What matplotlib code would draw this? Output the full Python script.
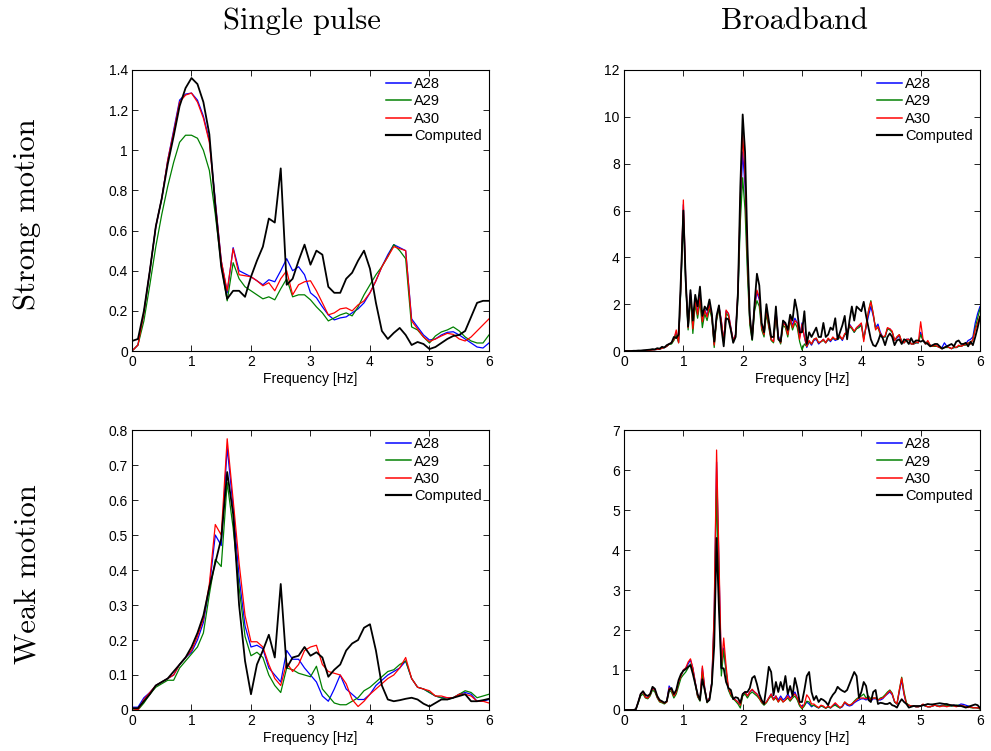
import numpy as np
import matplotlib
matplotlib.use('Agg')
import matplotlib.pyplot as plt
from matplotlib.ticker import FormatStrFormatter

# Frekuensi sampel
f_pulse = np.linspace(0, 6, 61)     # single pulse, tiap 0.1 Hz
f_broad = np.linspace(0, 6, 151)    # broadband, tiap 0.04 Hz

# --- Strong motion, single pulse ---
sp_strong_a28 = [0.0, 0.03, 0.19, 0.40, 0.62, 0.76, 0.95, 1.10, 1.25, 1.28,
                 1.285, 1.25, 1.17, 1.05, 0.75, 0.45, 0.29, 0.515, 0.40, 0.385,
                 0.37, 0.35, 0.33, 0.355, 0.345, 0.40, 0.46, 0.40, 0.42, 0.38,
                 0.29, 0.265, 0.22, 0.18, 0.155, 0.165, 0.17, 0.19, 0.21, 0.24,
                 0.29, 0.35, 0.42, 0.48, 0.53, 0.515, 0.50, 0.16, 0.12, 0.08,
                 0.055, 0.06, 0.08, 0.093, 0.096, 0.08, 0.06, 0.04, 0.02, 0.015, 0.04]
sp_strong_a29 = [0.0, 0.03, 0.15, 0.33, 0.52, 0.68, 0.82, 0.94, 1.04, 1.075,
                 1.075, 1.06, 1.0, 0.90, 0.68, 0.43, 0.25, 0.44, 0.36, 0.32,
                 0.30, 0.28, 0.26, 0.27, 0.255, 0.31, 0.36, 0.27, 0.28, 0.28,
                 0.255, 0.22, 0.19, 0.15, 0.165, 0.18, 0.19, 0.175, 0.22, 0.28,
                 0.33, 0.38, 0.42, 0.47, 0.53, 0.50, 0.46, 0.12, 0.105, 0.07,
                 0.04, 0.075, 0.095, 0.105, 0.12, 0.10, 0.07, 0.05, 0.04, 0.04, 0.08]
sp_strong_a30 = [0.0, 0.03, 0.19, 0.40, 0.62, 0.76, 0.95, 1.09, 1.24, 1.275,
                 1.285, 1.24, 1.16, 1.04, 0.74, 0.45, 0.30, 0.51, 0.38, 0.375,
                 0.37, 0.35, 0.325, 0.34, 0.30, 0.36, 0.40, 0.28, 0.33, 0.345,
                 0.35, 0.30, 0.24, 0.18, 0.19, 0.21, 0.215, 0.20, 0.23, 0.25,
                 0.29, 0.35, 0.42, 0.47, 0.52, 0.51, 0.50, 0.15, 0.11, 0.07,
                 0.047, 0.06, 0.075, 0.088, 0.083, 0.06, 0.05, 0.07, 0.10, 0.13, 0.16]
sp_strong_comp = [0.05, 0.06, 0.20, 0.40, 0.62, 0.76, 0.93, 1.07, 1.22, 1.31,
                  1.36, 1.33, 1.24, 1.08, 0.72, 0.42, 0.26, 0.30, 0.30, 0.27,
                  0.37, 0.45, 0.52, 0.66, 0.64, 0.91, 0.33, 0.36, 0.45, 0.53,
                  0.43, 0.50, 0.48, 0.32, 0.29, 0.29, 0.36, 0.39, 0.45, 0.50,
                  0.41, 0.24, 0.10, 0.06, 0.09, 0.115, 0.08, 0.03, 0.045, 0.035,
                  0.01, 0.02, 0.04, 0.06, 0.075, 0.08, 0.10, 0.17, 0.24, 0.25, 0.25]

# --- Weak motion, single pulse ---
sp_weak_a28 = [0.008, 0.008, 0.035, 0.05, 0.07, 0.08, 0.09, 0.10, 0.13, 0.15,
               0.165, 0.20, 0.25, 0.35, 0.50, 0.47, 0.75, 0.58, 0.38, 0.24,
               0.18, 0.185, 0.175, 0.12, 0.10, 0.08, 0.17, 0.145, 0.145, 0.12,
               0.10, 0.08, 0.04, 0.025, 0.06, 0.10, 0.06, 0.045, 0.03, 0.03,
               0.045, 0.07, 0.085, 0.10, 0.11, 0.12, 0.14, 0.09, 0.065, 0.06,
               0.05, 0.04, 0.035, 0.035, 0.035, 0.045, 0.05, 0.045, 0.025, 0.025, 0.03]
sp_weak_a29 = [0.0, 0.0, 0.02, 0.045, 0.065, 0.075, 0.085, 0.085, 0.12, 0.14,
               0.16, 0.18, 0.22, 0.33, 0.43, 0.41, 0.65, 0.52, 0.35, 0.21,
               0.155, 0.165, 0.15, 0.10, 0.07, 0.05, 0.12, 0.115, 0.105, 0.10,
               0.095, 0.125, 0.06, 0.04, 0.02, 0.015, 0.015, 0.025, 0.035, 0.055,
               0.065, 0.08, 0.095, 0.11, 0.115, 0.13, 0.14, 0.09, 0.065, 0.06,
               0.05, 0.04, 0.035, 0.03, 0.035, 0.045, 0.055, 0.05, 0.035, 0.04, 0.045]
sp_weak_a30 = [0.005, 0.0, 0.03, 0.05, 0.07, 0.08, 0.09, 0.10, 0.13, 0.15,
               0.17, 0.21, 0.26, 0.36, 0.53, 0.50, 0.775, 0.60, 0.42, 0.27,
               0.195, 0.195, 0.18, 0.13, 0.09, 0.07, 0.135, 0.11, 0.13, 0.17,
               0.18, 0.185, 0.13, 0.11, 0.105, 0.10, 0.075, 0.03, 0.01, 0.025,
               0.045, 0.06, 0.075, 0.09, 0.10, 0.12, 0.15, 0.09, 0.065, 0.06,
               0.055, 0.04, 0.04, 0.035, 0.035, 0.045, 0.045, 0.04, 0.025, 0.025, 0.02]
sp_weak_comp = [0.005, 0.005, 0.025, 0.045, 0.07, 0.08, 0.09, 0.11, 0.13, 0.15,
                0.18, 0.22, 0.27, 0.35, 0.42, 0.49, 0.68, 0.56, 0.30, 0.14,
                0.045, 0.13, 0.17, 0.215, 0.15, 0.36, 0.12, 0.15, 0.155, 0.18,
                0.155, 0.165, 0.15, 0.095, 0.115, 0.13, 0.17, 0.19, 0.20, 0.235,
                0.245, 0.17, 0.07, 0.03, 0.025, 0.028, 0.032, 0.035, 0.03, 0.018,
                0.01, 0.02, 0.03, 0.03, 0.035, 0.04, 0.045, 0.025, 0.025, 0.028, 0.032]

# --- Strong motion, broadband ---
bb_strong_a28 = [0.0, 0.0, 0.0, 0.0, 0.0, 0.01, 0.01, 0.01, 0.02, 0.02, 0.03, 0.04, 0.05, 0.06, 0.07, 0.08, 0.12, 0.15, 0.2, 0.3, 0.35, 0.5, 0.8, 0.4, 2.9,
                 6.25, 3.0, 1.0, 2.5, 1.0, 2.25, 1.6, 2.4, 1.3, 1.8, 1.5, 2.05, 1.5, 0.3, 1.45, 1.9, 1.3, 0.4, 1.7, 1.6, 1.0, 0.45, 0.7, 2.5, 6.0,
                 8.5, 7.0, 3.8, 1.3, 0.6, 1.9, 2.5, 2.2, 1.0, 0.7, 1.75, 1.1, 0.5, 0.4, 1.75, 0.65, 0.4, 1.2, 1.15, 0.7, 1.4, 1.1, 1.4, 1.2, 0.6,
                 1.2, 0.6, 0.15, 0.4, 0.25, 0.45, 0.5, 0.3, 0.4, 0.5, 0.35, 0.5, 0.4, 0.55, 0.45, 0.5, 0.6, 0.45, 0.7, 0.75, 1.15, 1.0, 0.8, 1.0, 1.05,
                 1.15, 0.55, 1.0, 1.5, 1.9, 1.5, 1.0, 1.15, 0.8, 0.6, 0.6, 0.95, 0.95, 0.8, 0.45, 0.55, 0.65, 0.4, 0.35, 0.5, 0.5, 0.3, 0.3, 0.35, 0.35,
                 0.8, 0.45, 0.3, 0.4, 0.25, 0.2, 0.2, 0.2, 0.15, 0.15, 0.35, 0.2, 0.15, 0.1, 0.15, 0.15, 0.2, 0.2, 0.25, 0.3, 0.45, 0.5, 0.6, 1.2, 1.6,
                 1.9]
bb_strong_a29 = [0.0, 0.0, 0.0, 0.0, 0.0, 0.01, 0.01, 0.01, 0.02, 0.02, 0.03, 0.04, 0.05, 0.06, 0.07, 0.08, 0.12, 0.15, 0.2, 0.28, 0.3, 0.45, 0.7, 0.35, 2.8,
                 5.8, 2.8, 0.9, 2.3, 0.75, 2.0, 1.4, 2.1, 1.0, 1.6, 1.3, 1.8, 1.4, 0.15, 1.3, 1.8, 1.2, 0.35, 1.6, 1.5, 0.9, 0.4, 0.6, 2.3, 5.5,
                 7.4, 6.0, 3.3, 1.1, 0.45, 1.7, 2.15, 1.9, 0.9, 0.6, 1.6, 1.0, 0.45, 0.35, 1.55, 0.55, 0.3, 1.1, 1.0, 0.6, 1.3, 0.9, 1.2, 1.0, 0.4,
                 0.05, 0.3, 0.2, 0.4, 0.3, 0.5, 0.55, 0.35, 0.4, 0.45, 0.35, 0.5, 0.45, 0.55, 0.5, 0.5, 0.6, 0.5, 0.7, 0.75, 1.05, 0.95, 0.8, 0.95, 1.0,
                 1.1, 0.5, 1.1, 1.7, 2.15, 1.6, 0.95, 1.0, 0.7, 0.6, 0.6, 0.95, 0.9, 0.8, 0.45, 0.6, 0.7, 0.4, 0.35, 0.45, 0.5, 0.3, 0.3, 0.35, 0.35,
                 0.7, 0.45, 0.3, 0.4, 0.25, 0.2, 0.2, 0.2, 0.15, 0.1, 0.15, 0.15, 0.15, 0.1, 0.15, 0.15, 0.2, 0.2, 0.25, 0.25, 0.35, 0.3, 0.5, 1.0, 1.4,
                 1.8]
bb_strong_a30 = [0.0, 0.0, 0.0, 0.0, 0.0, 0.01, 0.01, 0.01, 0.02, 0.02, 0.03, 0.04, 0.05, 0.06, 0.07, 0.08, 0.12, 0.15, 0.2, 0.3, 0.35, 0.5, 0.9, 0.35, 3.0,
                 6.45, 3.0, 1.0, 2.45, 0.95, 2.2, 1.55, 2.3, 1.25, 1.75, 1.45, 2.0, 1.5, 0.25, 1.4, 1.9, 1.3, 0.4, 1.75, 1.6, 1.0, 0.45, 0.7, 2.6, 6.5,
                 9.25, 7.5, 4.0, 1.3, 0.6, 1.9, 2.6, 2.3, 1.0, 0.7, 1.8, 1.1, 0.5, 0.4, 1.7, 0.6, 0.35, 1.2, 1.1, 0.7, 1.4, 1.0, 1.3, 1.2, 0.5,
                 1.15, 0.6, 0.2, 0.45, 0.3, 0.5, 0.55, 0.35, 0.4, 0.5, 0.35, 0.55, 0.45, 0.6, 0.5, 0.55, 0.65, 0.5, 0.75, 0.8, 1.1, 1.0, 0.85, 1.0, 1.1,
                 1.2, 0.4, 1.1, 1.7, 2.1, 1.6, 0.9, 1.05, 0.75, 0.6, 0.65, 1.0, 0.95, 0.85, 0.45, 0.6, 0.7, 0.4, 0.35, 0.5, 0.5, 0.3, 0.3, 0.4, 0.35,
                 1.25, 0.5, 0.3, 0.45, 0.25, 0.2, 0.25, 0.2, 0.15, 0.1, 0.15, 0.2, 0.15, 0.1, 0.2, 0.15, 0.25, 0.2, 0.25, 0.3, 0.35, 0.3, 0.5, 0.9, 1.2,
                 1.5]
bb_strong_comp = [0.0, 0.0, 0.0, 0.0, 0.01, 0.01, 0.02, 0.02, 0.03, 0.04, 0.05, 0.06, 0.08, 0.07, 0.12, 0.10, 0.18, 0.15, 0.25, 0.30, 0.35, 0.60, 0.55, 0.70, 3.2,
                  6.0, 3.0, 1.05, 2.6, 1.3, 2.4, 1.9, 2.75, 1.5, 1.9, 1.75, 2.2, 1.6, 0.4, 1.5, 1.95, 1.0, 0.2, 1.4, 1.35, 0.9, 0.35, 0.6, 2.5, 7.0,
                  10.1, 8.5, 4.5, 1.5, 0.5, 2.0, 3.3, 2.8, 1.2, 0.8, 2.0, 1.3, 0.6, 0.6, 1.9, 0.5, 0.4, 1.3, 1.2, 0.9, 1.55, 1.3, 2.2, 1.7, 0.8,
                  0.8, 1.7, 0.3, 0.8, 0.6, 0.8, 1.0, 0.6, 0.6, 1.2, 0.6, 0.7, 1.0, 0.9, 1.4, 0.5, 0.8, 1.1, 1.5, 0.5, 1.3, 1.9, 1.3, 1.9, 1.8,
                  1.7, 2.1, 1.5, 1.0, 0.5, 0.25, 0.2, 0.4, 0.7, 0.55, 0.25, 0.6, 0.75, 0.6, 0.25, 0.45, 0.5, 0.3, 0.5, 0.45, 0.3, 0.55, 0.35, 0.45, 0.45,
                  0.4, 0.45, 0.35, 0.3, 0.2, 0.25, 0.3, 0.3, 0.2, 0.1, 0.15, 0.2, 0.25, 0.3, 0.2, 0.4, 0.45, 0.3, 0.3, 0.35, 0.2, 0.4, 0.25, 0.6, 1.0,
                  1.45]

# --- Weak motion, broadband ---
bb_weak_a28 = [0, 0, 0, 0, 0, 0.02, 0.2, 0.4, 0.45, 0.33, 0.3, 0.38, 0.55, 0.5, 0.32, 0.22, 0.2, 0.17, 0.22, 0.6, 0.5, 0.35, 0.45, 0.7, 0.85,
               1.0, 1.05, 1.15, 1.25, 1.05, 0.7, 0.35, 0.25, 1.05, 0.55, 0.2, 0.3, 0.7, 2.4, 6.2, 3.6, 1.0, 1.55, 1.0, 0.5, 0.4, 0.3, 0.25, 0.2, 0.12,
               0.4, 0.45, 0.35, 0.45, 0.5, 0.45, 0.4, 0.3, 0.2, 0.15, 0.2, 0.3, 0.4, 0.28, 0.35, 0.25, 0.35, 0.25, 0.3, 0.4, 0.3, 0.35, 0.45, 0.3, 0.12,
               0.1, 0.12, 0.2, 0.15, 0.08, 0.12, 0.08, 0.05, 0.1, 0.08, 0.05, 0.08, 0.05, 0.1, 0.15, 0.1, 0.05, 0.08, 0.18, 0.12, 0.1, 0.12, 0.18, 0.22, 0.25,
               0.28, 0.28, 0.25, 0.3, 0.22, 0.28, 0.28, 0.25, 0.25, 0.28, 0.35, 0.4, 0.45, 0.38, 0.2, 0.15, 0.45, 0.75, 0.38, 0.15, 0.12, 0.1, 0.1, 0.08, 0.08,
               0.1, 0.12, 0.1, 0.08, 0.08, 0.1, 0.12, 0.1, 0.1, 0.12, 0.1, 0.1, 0.12, 0.1, 0.12, 0.1, 0.12, 0.15, 0.14, 0.12, 0.1, 0.08, 0.06, 0.06, 0.05,
               0.05]
bb_weak_a29 = [0, 0, 0, 0, 0, 0.02, 0.18, 0.35, 0.4, 0.3, 0.28, 0.35, 0.5, 0.45, 0.3, 0.2, 0.18, 0.15, 0.2, 0.5, 0.45, 0.3, 0.4, 0.6, 0.8,
               0.88, 0.95, 1.05, 1.15, 1.0, 0.65, 0.33, 0.22, 0.95, 0.5, 0.18, 0.28, 0.65, 2.2, 5.5, 3.0, 0.85, 1.5, 0.95, 0.5, 0.35, 0.28, 0.22, 0.15, 0.05,
               0.35, 0.4, 0.3, 0.4, 0.45, 0.4, 0.35, 0.28, 0.18, 0.12, 0.18, 0.28, 0.35, 0.25, 0.3, 0.2, 0.28, 0.2, 0.25, 0.3, 0.22, 0.3, 0.35, 0.25, 0.1,
               0.03, 0.1, 0.22, 0.2, 0.1, 0.12, 0.08, 0.05, 0.1, 0.08, 0.04, 0.08, 0.05, 0.1, 0.12, 0.08, 0.05, 0.1, 0.2, 0.15, 0.12, 0.15, 0.22, 0.28, 0.32,
               0.35, 0.4, 0.3, 0.35, 0.28, 0.3, 0.3, 0.25, 0.3, 0.32, 0.38, 0.45, 0.5, 0.42, 0.2, 0.15, 0.5, 0.82, 0.45, 0.18, 0.12, 0.1, 0.1, 0.08, 0.08,
               0.1, 0.12, 0.1, 0.08, 0.08, 0.1, 0.12, 0.1, 0.1, 0.1, 0.12, 0.12, 0.1, 0.1, 0.1, 0.12, 0.12, 0.1, 0.1, 0.08, 0.08, 0.06, 0.05, 0.06, 0.05,
               0.02]
bb_weak_a30 = [0, 0, 0, 0, 0, 0.02, 0.2, 0.4, 0.45, 0.32, 0.3, 0.38, 0.55, 0.5, 0.32, 0.22, 0.2, 0.17, 0.2, 0.55, 0.5, 0.35, 0.45, 0.7, 0.85,
               1.0, 1.05, 1.2, 1.28, 1.05, 0.7, 0.35, 0.25, 1.1, 0.55, 0.2, 0.3, 0.7, 2.5, 6.5, 3.8, 1.1, 1.8, 1.1, 0.55, 0.4, 0.3, 0.25, 0.2, 0.12,
               0.4, 0.45, 0.35, 0.45, 0.52, 0.45, 0.4, 0.3, 0.2, 0.15, 0.2, 0.3, 0.4, 0.25, 0.35, 0.2, 0.3, 0.2, 0.25, 0.35, 0.25, 0.35, 0.4, 0.3, 0.15,
               0.05, 0.15, 0.38, 0.3, 0.15, 0.15, 0.1, 0.06, 0.12, 0.1, 0.05, 0.1, 0.06, 0.12, 0.18, 0.12, 0.06, 0.1, 0.2, 0.15, 0.12, 0.15, 0.2, 0.25, 0.3,
               0.3, 0.3, 0.28, 0.32, 0.25, 0.3, 0.3, 0.25, 0.28, 0.3, 0.35, 0.42, 0.48, 0.4, 0.22, 0.15, 0.5, 0.8, 0.4, 0.15, 0.12, 0.1, 0.1, 0.08, 0.08,
               0.1, 0.15, 0.1, 0.08, 0.08, 0.1, 0.12, 0.1, 0.08, 0.1, 0.1, 0.08, 0.1, 0.12, 0.1, 0.08, 0.1, 0.12, 0.1, 0.08, 0.06, 0.08, 0.06, 0.05, 0.06,
               0.03]
bb_weak_comp = [0, 0, 0, 0, 0, 0.02, 0.2, 0.4, 0.47, 0.38, 0.35, 0.4, 0.58, 0.53, 0.35, 0.25, 0.22, 0.18, 0.22, 0.5, 0.55, 0.4, 0.5, 0.75, 0.9,
                0.98, 1.02, 1.08, 1.12, 0.9, 0.65, 0.4, 0.25, 0.77, 0.5, 0.2, 0.25, 0.65, 1.6, 4.3, 2.5, 1.05, 1.04, 0.7, 0.55, 0.5, 0.27, 0.32, 0.3, 0.18,
                0.4, 0.45, 0.45, 0.55, 0.8, 0.85, 0.65, 0.4, 0.25, 0.15, 0.6, 1.08, 0.95, 0.37, 0.7, 0.45, 0.7, 0.5, 0.85, 0.4, 0.6, 0.35, 0.8, 0.55, 0.2,
                0.2, 0.5, 0.85, 0.95, 0.45, 0.25, 0.35, 0.2, 0.28, 0.25, 0.2, 0.12, 0.28, 0.38, 0.45, 0.58, 0.52, 0.48, 0.45, 0.5, 0.65, 0.8, 0.95, 0.85, 0.3,
                0.45, 0.7, 0.6, 0.25, 0.2, 0.45, 0.5, 0.15, 0.18, 0.17, 0.15, 0.15, 0.18, 0.12, 0.1, 0.06, 0.18, 0.27, 0.2, 0.15, 0.06, 0.08, 0.1, 0.1, 0.1,
                0.1, 0.12, 0.13, 0.15, 0.14, 0.14, 0.15, 0.16, 0.17, 0.16, 0.15, 0.15, 0.13, 0.12, 0.12, 0.11, 0.1, 0.1, 0.08, 0.06, 0.08, 0.1, 0.12, 0.14, 0.12,
                0.05]

labels = ['A28', 'A29', 'A30', 'Computed']
warna = ['#0000ff', '#008000', '#ff0000', 'k']
lebar = [0.9, 0.9, 0.9, 1.3]

panel = [
    # (posisi axes, frekuensi, data, ylim, yticks)
    ([0.1332, 0.5326, 0.3602, 0.3742], f_pulse,
     [sp_strong_a28, sp_strong_a29, sp_strong_a30, sp_strong_comp], 1.4, np.arange(0, 1.41, 0.2)),
    ([0.6297, 0.5326, 0.3592, 0.3742], f_broad,
     [bb_strong_a28, bb_strong_a29, bb_strong_a30, bb_strong_comp], 12, np.arange(0, 13, 2)),
    ([0.1332, 0.0546, 0.3602, 0.3728], f_pulse,
     [sp_weak_a28, sp_weak_a29, sp_weak_a30, sp_weak_comp], 0.8, np.arange(0, 0.81, 0.1)),
    ([0.6297, 0.0546, 0.3592, 0.3728], f_broad,
     [bb_weak_a28, bb_weak_a29, bb_weak_a30, bb_weak_comp], 7, np.arange(0, 8, 1)),
]

plt.rcParams['font.family'] = ['Liberation Sans', 'DejaVu Sans']
fig = plt.figure(figsize=(9.91, 7.51), dpi=100)

for pos, freq, series, ymax, yt in panel:
    ax = fig.add_axes(pos)
    for y, lab, c, lw in zip(series, labels, warna, lebar):
        ax.plot(freq, y, color=c, lw=lw, label=lab)
    ax.set_xlim(0, 6)
    ax.set_ylim(0, ymax)
    ax.set_xticks(range(7))
    ax.set_yticks(yt)
    ax.yaxis.set_major_formatter(FormatStrFormatter('%g'))
    ax.tick_params(direction='in', top=True, right=True, length=4, width=0.6,
                   labelsize=10, pad=3)
    for s in ax.spines.values():
        s.set_linewidth(0.8)
    ax.set_xlabel('Frequency [Hz]', fontsize=10, labelpad=2)
    leg = ax.legend(loc='upper right', frameon=False, fontsize=10.5, handlelength=1.7,
                    handletextpad=0.2, labelspacing=0.22, borderaxespad=0.3, borderpad=0.2)
    for h in leg.get_lines():
        h.set_linewidth(h.get_linewidth() * 1.2)

# Judul kolom dan baris (gaya LaTeX)
serif = ['cmr10', 'DejaVu Serif']
fig.text(0.305, 0.972, 'Single pulse', fontsize=22, family=serif, ha='center', va='center')
fig.text(0.802, 0.972, 'Broadband', fontsize=22, family=serif, ha='center', va='center')
fig.text(0.028, 0.715, 'Strong motion', fontsize=22, family=serif, rotation=90,
         ha='center', va='center')
fig.text(0.028, 0.235, 'Weak motion', fontsize=22, family=serif, rotation=90,
         ha='center', va='center')

fig.savefig('out.png', dpi=100)
